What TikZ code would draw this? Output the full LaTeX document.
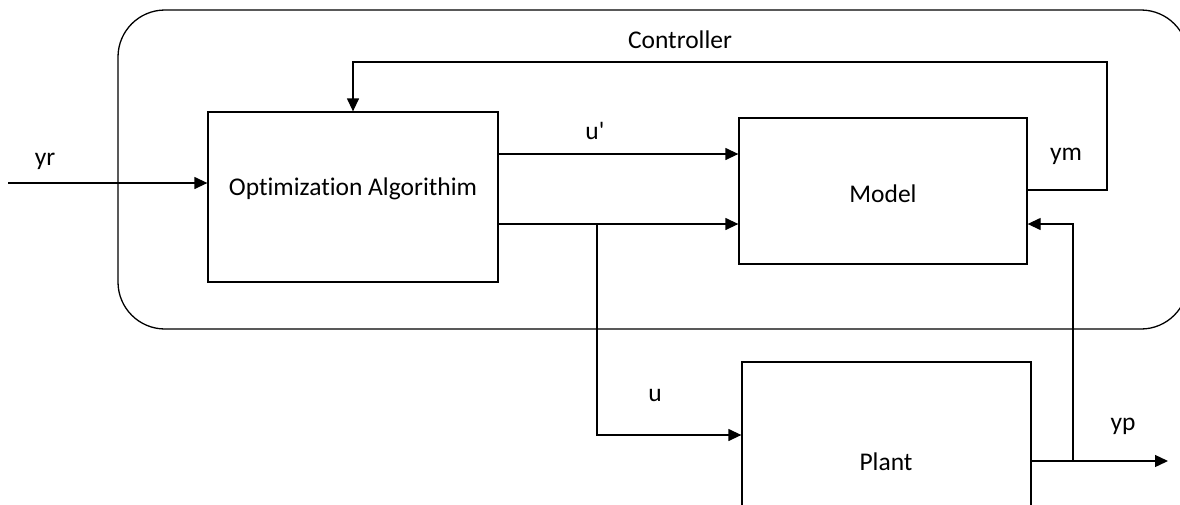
\documentclass[tikz,border=0pt]{standalone}
\usepackage{fontspec}
\setmainfont{Carlito}[Ligatures={NoCommon}]
\usetikzlibrary{arrows.meta}
\begin{document}
\begin{tikzpicture}[x=1pt,y=-1pt,
  line width=1.3pt,
  block/.style={draw, rectangle, inner sep=0pt},
  lbl/.style={inner sep=0pt, font=\fontsize{25.5}{30}\selectfont},
  arr/.style={-{Triangle[length=13pt,width=12pt]}}]
\useasboundingbox (0,0) rectangle (1180,504);
\clip (0,0) rectangle (1180,504);

% controller frame
\draw[rounded corners=47pt] (118,10) rectangle (1188,329);
\node[lbl] (ctl) at (680,40) {Controller};

% blocks
\node[block, minimum width=290pt, minimum height=170pt] (opt) at (353,197) {};
\node[block, minimum width=288pt, minimum height=146pt] (model) at (883,191) {};
\node[block, minimum width=289pt, minimum height=198pt] (plant) at (886.5,461) {};
\node[lbl] (optname) at (353,189) {Optimization Algorithim};
\node[lbl] (modelname) at (883,194) {Model};
\node[lbl] (plantname) at (886,462) {Plant};

% helper points
\coordinate (yrin) at (8,183);
\coordinate (upy) at (0,154);
\coordinate (uy) at (0,224);
\coordinate (br) at (597,224);
\coordinate (py) at (0,435);
\coordinate (ymy) at (0,190);
\coordinate (fbc) at (1107,62);
\coordinate (ypy) at (0,461);
\coordinate (ypout) at (1168,461);
\coordinate (ypbr) at (1073,461);

% signals
\draw[arr] (yrin) -- (yrin -| opt.west);
\draw[arr] (opt.east |- upy) -- (model.west |- upy);
\draw[arr] (opt.east |- uy) -- (model.west |- uy);
\draw[arr] (br) |- (plant.west |- py);
\draw[arr] (model.east |- ymy) -| (fbc) -| (opt.north);
\draw[arr] (plant.east |- ypy) -- (ypout);
\draw[arr] (ypbr) |- (model.east |- uy);

% labels
\node[lbl] (lyr) at (45,161) {yr};
\node[lbl] (lup) at (595,131) {u\textquotesingle};
\node[lbl] (lu) at (655,395) {u};
\node[lbl] (lym) at (1066,156) {ym};
\node[lbl] (lyp) at (1123,426) {yp};
\end{tikzpicture}
\end{document}
